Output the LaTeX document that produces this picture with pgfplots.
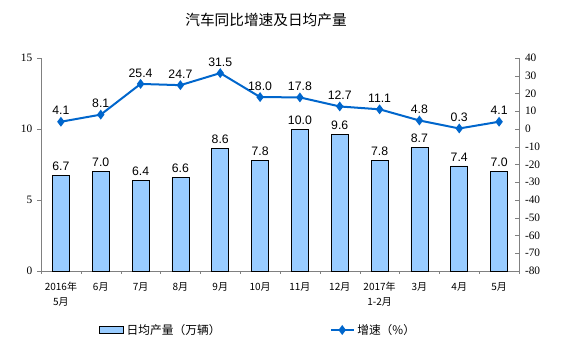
\documentclass[border=0pt]{standalone}
\usepackage{fontspec}
\setmainfont{Liberation Serif}
\newfontfamily\cjk{Noto Sans CJK SC}
\newfontfamily\arial{Liberation Sans}
\usepackage{pgfplots}
\pgfplotsset{compat=1.18}
\definecolor{barblue}{HTML}{99CCFF}
\definecolor{lineblue}{HTML}{0066CC}
\definecolor{axgray}{HTML}{808080}
\begin{document}
\begin{tikzpicture}
\path[use as bounding box] (0,0) rectangle (423pt,263.25pt);
\node[font=\cjk\fontsize{11}{12}\selectfont] at (199.5pt,248.25pt) {汽车同比增速及日均产量};
\begin{axis}[
  at={(30.75pt,60pt)}, anchor=south west, scale only axis,
  width=358.5pt, height=159.75pt,
  xmin=-0.5, xmax=11.5, ymin=0, ymax=15,
  axis x line*=bottom, axis y line*=left,
  axis line style={axgray},
  ytick={0,5,10,15},
  xtick={0,...,11},
  minor xtick={-0.5,0.5,...,11.5},
  major x tick style={draw=none},
  minor x tick style={axgray},
  y tick style={axgray},
  tick align=outside,
  minor tick length=2pt, major tick length=3pt,
  xticklabels={{2016年\\5月},6月,7月,8月,9月,10月,11月,12月,{2017年\\1-2月},3月,4月,5月},
  xticklabel style={align=center, font=\cjk\fontsize{7.5}{11}\selectfont, yshift=-2pt},
  yticklabel style={font=\fontsize{8.5}{10}\selectfont},
  /pgf/number format/assume math mode=true,
  ybar, bar width=12.75pt,
  nodes near coords,
  nodes near coords style={font=\arial\fontsize{9.2}{10}\selectfont, /pgf/number format/.cd, fixed, fixed zerofill, precision=1},
]
\addplot[fill=barblue, draw=black, line width=0.6pt] coordinates {
(0,6.7) (1,7.0) (2,6.4) (3,6.6) (4,8.6) (5,7.8) (6,10.0) (7,9.6) (8,7.8) (9,8.7) (10,7.4) (11,7.0)};
\end{axis}
\begin{axis}[
  at={(30.75pt,60pt)}, anchor=south west, scale only axis,
  width=358.5pt, height=159.75pt,
  xmin=-0.5, xmax=11.5, ymin=-80, ymax=40,
  axis x line=none, axis y line*=right,
  axis line style={axgray},
  ytick={-80,-70,...,40},
  y tick style={axgray},
  tick align=inside, major tick length=3pt,
  yticklabel style={font=\fontsize{8.5}{10}\selectfont, xshift=1pt},
  /pgf/number format/assume math mode=true,
  yticklabel={\ifdim\tick pt<0pt -\pgfmathparse{-\tick}\pgfmathprintnumber{\pgfmathresult}\else\pgfmathprintnumber{\tick}\fi},
  nodes near coords,
  nodes near coords style={font=\arial\fontsize{9.2}{10}\selectfont, text=black, yshift=1pt, /pgf/number format/.cd, fixed, fixed zerofill, precision=1},
  legend style={at={(0.455,-0.277)}, anchor=center, draw=none, fill=none, legend columns=2,
    font=\cjk\fontsize{8.8}{10}\selectfont,
    /tikz/every even column/.append style={column sep=80pt}},
]
\addlegendimage{legend image code/.code={\draw[fill=barblue,draw=black,line width=0.5pt] (0pt,-2.5pt) rectangle (18pt,2.5pt);}}
\addlegendentry{日均产量（万辆）}
\addplot[lineblue, line width=1.5pt, mark=diamond*, mark size=2.5pt, mark options={fill=lineblue,draw=lineblue}] coordinates {
(0,4.1) (1,8.1) (2,25.4) (3,24.7) (4,31.5) (5,18.0) (6,17.8) (7,12.7) (8,11.1) (9,4.8) (10,0.3) (11,4.1)};
\addlegendentry{增速（\%）}
\end{axis}
\end{tikzpicture}
\end{document}
